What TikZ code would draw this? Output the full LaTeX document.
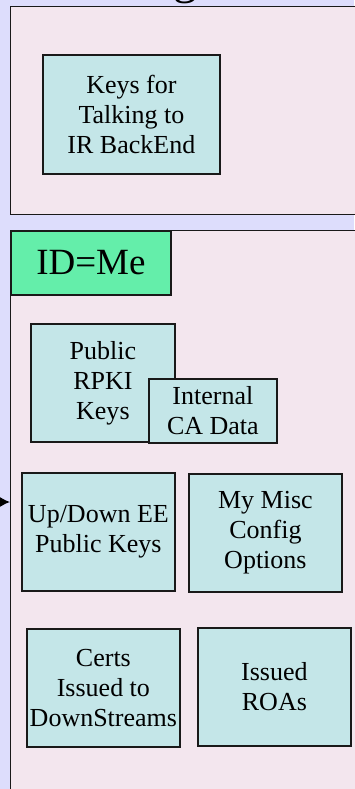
\documentclass[tikz,border=0pt]{standalone}
\usepackage{fontspec}
\setmainfont{Liberation Serif}
\newfontfamily\slidefont{Liberation Serif}
\usetikzlibrary{positioning,arrows.meta}
\definecolor{slidebg}{RGB}{221,221,252}
\definecolor{panelpink}{RGB}{243,230,238}
\definecolor{storecyan}{RGB}{196,230,232}
\definecolor{tabgreen}{RGB}{100,238,170}
\tikzstyle{panel} = [draw=black!90,line width=1.4pt,fill=panelpink,anchor=north west,inner sep=0pt]
\tikzstyle{store} = [draw=black!90,line width=1.8pt,fill=storecyan,anchor=north west,inner sep=0pt,align=center,font=\slidefont\fontsize{26}{30}\selectfont]
\tikzstyle{arrow} = [line width=1.4pt,-{Latex[length=10pt,width=10pt]}]

\begin{document}
\begin{tikzpicture}[x=1pt,y=-1pt]
    \useasboundingbox (0,0) rectangle (354,789);
    \fill[slidebg] (0,0) rectangle (354,789);
    \node[font=\slidefont\fontsize{48}{48}\selectfont,anchor=base] (title) at (185,-6) {g};
    \node[panel,minimum width=360pt,minimum height=208pt] (backend) at (10,6) {};
    \node[store,minimum width=177pt,minimum height=119pt] (irkeys) at (42,54) {Keys for\\Talking to\\IR BackEnd};
    \node[panel,minimum width=360pt,minimum height=600pt] (me) at (10,230) {};
    \node[panel,fill=tabgreen,line width=1.8pt,minimum width=160pt,minimum height=64pt,font=\slidefont\fontsize{37}{40}\selectfont] (id) at (10,230) {ID=Me};
    \node[store,minimum width=144pt,minimum height=118pt] (rpki) at (30,323) {Public\\RPKI\\Keys};
    \node[store,minimum width=128pt,minimum height=64pt] (cadata) at (148,378) {Internal\\CA Data};
    \node[store,minimum width=153pt,minimum height=118pt] (updown) at (21,472) {Up/Down EE\\Public Keys};
    \node[store,minimum width=153pt,minimum height=118pt] (misc) at (188,473) {My Misc\\Config\\Options};
    \node[store,minimum width=153pt,minimum height=118pt] (certs) at (26,628) {Certs\\Issued to\\DownStreams};
    \node[store,minimum width=153pt,minimum height=118pt] (roas) at (197,627) {Issued\\ROAs};
    \coordinate (feed) at (-30,502);
    \draw[arrow] (feed) -- (feed -| me.west);
\end{tikzpicture}
\end{document}
